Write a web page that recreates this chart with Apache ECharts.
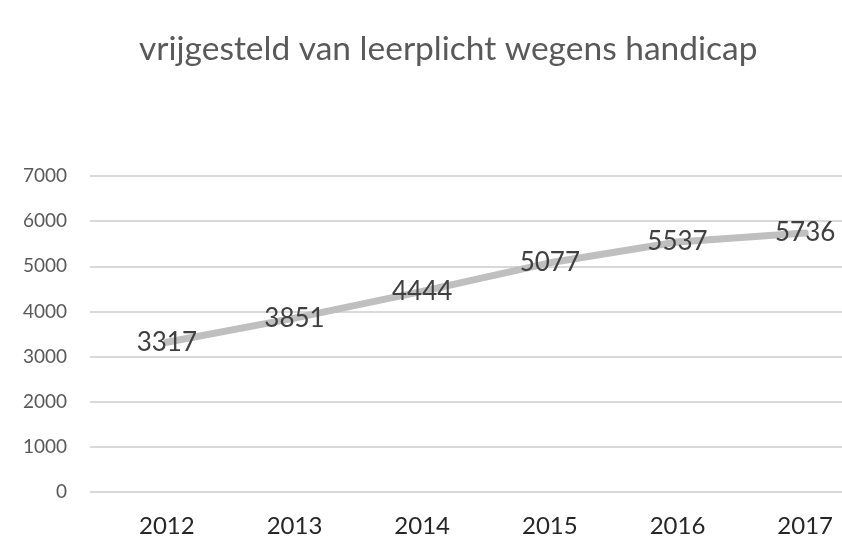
<!DOCTYPE html>
<html>
<head>
<meta charset="utf-8">
<script src="https://cdn.jsdelivr.net/npm/echarts@6/dist/echarts.min.js"></script>
<style>html,body{margin:0;padding:0;background:#fff}#c{width:842px;height:536px}</style>
</head>
<body>
<div id="c"></div>
<script>
const title = 'vrijgesteld van leerplicht wegens handicap';
const categories = ['2012', '2013', '2014', '2015', '2016', '2017'];
const values = [3317, 3851, 4444, 5077, 5537, 5736];
const yMin = 0, yMax = 7000, yStep = 1000;

const chart = echarts.init(document.getElementById('c'), null, {renderer: 'canvas'});
chart.setOption({
  backgroundColor: '#ffffff',
  animation: false,
  title: {
    text: title, left: 134, top: 27,
    textStyle: {fontFamily: 'Lato', fontSize: 33.5, fontWeight: 'normal', color: '#595959'}
  },
  grid: [
    {left: 103, top: 176, width: 766, height: 316, outerBoundsMode: 'none', containLabel: false},
    {left: 90, top: 176, right: 0, height: 316, outerBoundsMode: 'none', containLabel: false}
  ],
  xAxis: [
    {type: 'category', gridIndex: 0, data: categories, boundaryGap: true,
     axisLine: {show: false}, axisTick: {show: false},
     axisLabel: {margin: 22, fontFamily: 'Lato', fontSize: 24, color: '#262626'}},
    {type: 'category', gridIndex: 1, data: categories, show: false}
  ],
  yAxis: [
    {type: 'value', gridIndex: 0, min: yMin, max: yMax, interval: yStep, show: false},
    {type: 'value', gridIndex: 1, min: yMin, max: yMax, interval: yStep,
     axisLine: {show: false}, axisTick: {show: false},
     splitLine: {lineStyle: {color: '#d9d9d9', width: 2}},
     axisLabel: {margin: 23, fontFamily: 'Lato', fontSize: 19, color: '#595959',
                 formatter: v => String(v)}}
  ],
  series: [{
    type: 'line', xAxisIndex: 0, yAxisIndex: 0, data: values,
    showSymbol: true, symbol: 'circle', symbolSize: 2,
    itemStyle: {color: 'rgba(0,0,0,0)', borderWidth: 0},
    lineStyle: {color: '#bfbfbf', width: 7, cap: 'round'},
    label: {show: true, position: 'inside', fontFamily: 'Lato', fontSize: 26, color: '#404040'},
    labelLayout: {hideOverlap: false},
    z: 3
  }]
});
</script>
</body>
</html>
